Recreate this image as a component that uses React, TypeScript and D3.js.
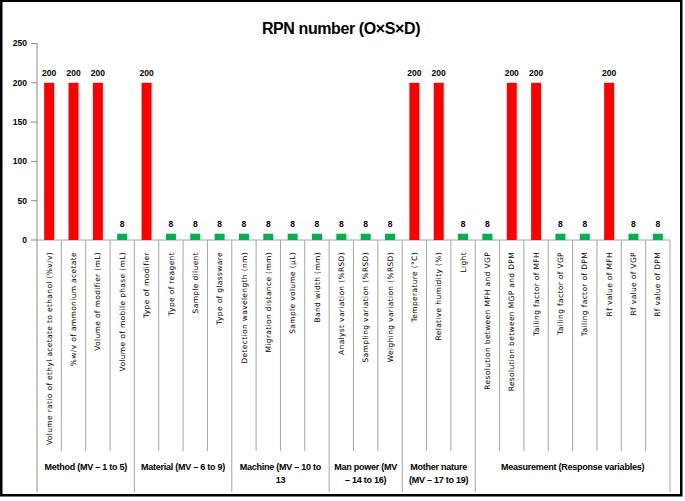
import React from "react";
import * as d3 from "d3";

const categories: string[] = [
  "Volume ratio of ethyl acetate to ethanol (%v/v)",
  "%w/v of ammonium acetate",
  "Volume of modifier (mL)",
  "Volume of mobile phase (mL)",
  "Type of modifier",
  "Type of reagent",
  "Sample diluent",
  "Type of glassware",
  "Detection wavelength (nm)",
  "Migration distance (mm)",
  "Sample volume (µL)",
  "Band width (mm)",
  "Analyst variation (%RSD)",
  "Sampling variation (%RSD)",
  "Weighing variation (%RSD)",
  "Temperature (°C)",
  "Relative humidity (%)",
  "Light",
  "Resolution between MFH and VGP",
  "Resolution between MGP and DPM",
  "Tailing factor of MFH",
  "Tailing factor of VGP",
  "Tailing factor of DPM",
  "Rf value of MFH",
  "Rf value of VGP",
  "Rf value of DPM",
];

const rpnValues: number[] = [
  200, 200, 200, 8, 200, 8, 8, 8, 8, 8, 8, 8, 8, 8, 8, 200, 200, 8, 8, 200, 200, 8, 8, 200, 8, 8,
];

const yTicks: number[] = [0, 50, 100, 150, 200, 250];

// group label lines and number of categories each group cell spans
const groupLabels: string[][] = [
  ["Method (MV – 1 to 5)"],
  ["Material (MV – 6 to 9)"],
  ["Machine (MV – 10 to", "13"],
  ["Man power (MV", "– 14 to 16)"],
  ["Mother nature", "(MV – 17 to 19)"],
  ["Measurement (Response variables)"],
];
const groupSpans: number[] = [4, 4, 4, 3, 3, 8];

const title = "RPN number (O×S×D)";

export default function App() {
  const W = 685;
  const H = 501;
  const left = 37;
  const right = 670;
  const y0 = 240;
  const yTop = 43.5;

  const x = d3.scaleBand<string>().domain(categories).range([left, right]).padding(0);
  const y = d3.scaleLinear().domain([0, 250]).range([y0, yTop]);
  const bw = x.bandwidth();
  const barW = bw * 0.41;

  const boundaries: number[] = [];
  let acc = 0;
  const groupEdges: number[] = [0];
  groupSpans.forEach((s) => {
    acc += s;
    groupEdges.push(acc);
  });
  for (let k = 1; k <= categories.length; k++) boundaries.push(k);

  const pos = (k: number) => left + k * bw;

  const gray = "#a6a6a6";
  const labelFont = "'DejaVu Sans', Verdana, sans-serif";
  const boldFont = "'Liberation Sans', Arial, sans-serif";

  return (
    <svg
      width={W}
      height={H}
      style={{ position: "absolute", left: 0, top: 0, background: "#fff" }}
    >
      <rect x={0} y={0} width={W} height={H} fill="#fff" />
      {/* title */}
      <text
        x={341}
        y={34}
        textAnchor="middle"
        fontFamily={boldFont}
        fontWeight="bold"
        fontSize={16}
        letterSpacing={-0.4}
        fill="#000"
      >
        {title}
      </text>

      {/* category separators */}
      {boundaries.map((k) => {
        const isGroup = groupEdges.includes(k);
        return (
          <line
            key={"b" + k}
            x1={pos(k)}
            x2={pos(k)}
            y1={y0}
            y2={isGroup ? 492 : 451}
            stroke={gray}
            strokeWidth={1}
          />
        );
      })}

      {/* x axis line */}
      <line x1={left} x2={right} y1={y0} y2={y0} stroke={gray} strokeWidth={1} />
      {/* y axis line */}
      <line x1={left} x2={left} y1={yTop} y2={492} stroke="#8c8c8c" strokeWidth={1} />

      {/* y ticks */}
      {yTicks.map((t) => (
        <g key={"t" + t}>
          <line x1={left - 6} x2={left} y1={y(t)} y2={y(t)} stroke="#8c8c8c" strokeWidth={1} />
          <text
            x={27}
            y={y(t)}
            dy="0.35em"
            textAnchor="end"
            fontFamily={boldFont}
            fontWeight="bold"
            fontSize={8.5}
            fill="#000"
          >
            {t}
          </text>
        </g>
      ))}

      {/* bars */}
      {categories.map((c, i) => {
        const v = rpnValues[i];
        const cx = (x(c) as number) + bw / 2;
        return (
          <g key={"bar" + i}>
            <rect
              x={cx - barW / 2}
              y={y(v)}
              width={barW}
              height={y0 - y(v)}
              fill={v >= 100 ? "#ff0000" : "#00b050"}
            />
            <text
              x={cx}
              y={y(v) - 6.5}
              textAnchor="middle"
              fontFamily={boldFont}
              fontWeight="bold"
              fontSize={8.5}
              fill="#000"
            >
              {v}
            </text>
            <text
              transform={`translate(${cx},252) rotate(-90)`}
              textAnchor="end"
              dy="0.35em"
              fontFamily={labelFont}
              fontSize={7.5}
              letterSpacing={0.35}
              fill="#000"
            >
              {c}
            </text>
          </g>
        );
      })}

      {/* group labels */}
      {groupLabels.map((lines, gi) => {
        const a = pos(groupEdges[gi]);
        const b = pos(groupEdges[gi + 1]);
        const cx = (a + b) / 2;
        return (
          <text
            key={"g" + gi}
            x={cx}
            y={469.5}
            textAnchor="middle"
            fontFamily={boldFont}
            fontWeight="bold"
            fontSize={9}
            letterSpacing={-0.25}
            fill="#000"
          >
            {lines.map((l, li) => (
              <tspan key={li} x={cx} dy={li === 0 ? 0 : 13.5}>
                {l}
              </tspan>
            ))}
          </text>
        );
      })}

      {/* outer frame */}
      <rect
        x={1.25}
        y={0.75}
        width={680}
        height={494.5}
        fill="none"
        stroke="#000"
        strokeWidth={2.5}
      />
    </svg>
  );
}
